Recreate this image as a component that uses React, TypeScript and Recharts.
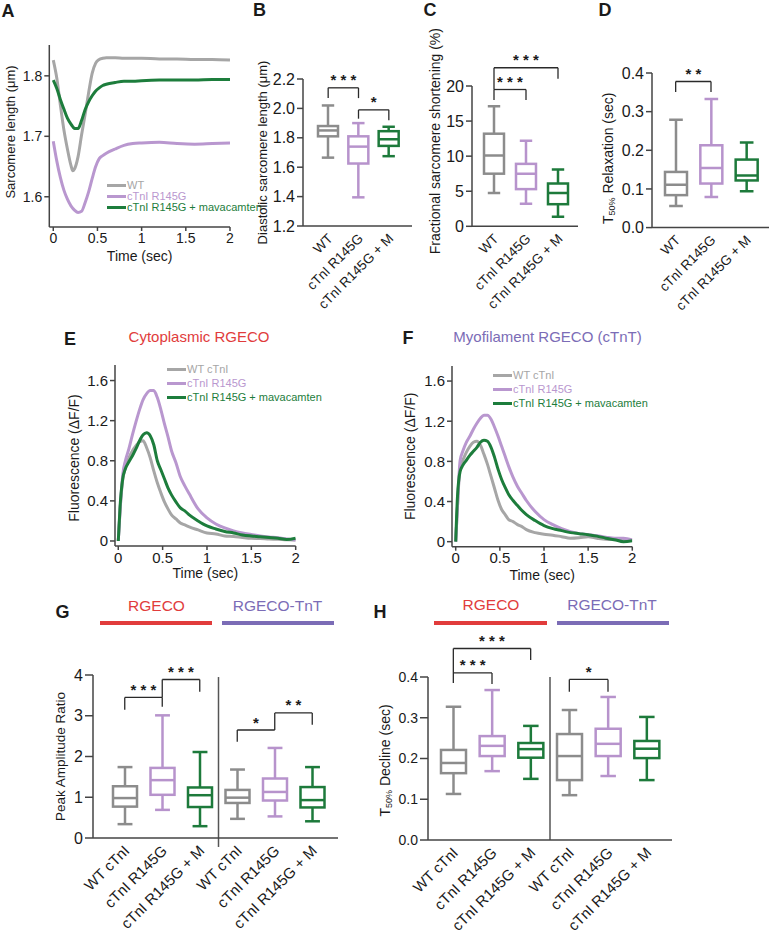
import React from "react";
import {
  LineChart,
  Line,
  BarChart,
  Bar,
  XAxis,
  YAxis,
  Legend,
  ReferenceLine,
} from "recharts";

const FONT = "'Liberation Sans', Arial, Helvetica, sans-serif";
const INK = "#1a1a1a";
const AXIS = "#444";
const TRACE = ["#a6a6a6", "#b997cf", "#1d7d3c"];
const BOX = ["#8c8c8c", "#b793cc", "#1d7a3b"];
const RED = "#e13c3c";
const VIOLET = "#7b6cb6";

// ---- A: sarcomere length traces ----
const timeA = [0, 0.04, 0.08, 0.12, 0.16, 0.2, 0.22, 0.24, 0.28, 0.32, 0.36, 0.4, 0.44, 0.48, 0.52, 0.56, 0.6, 0.7, 0.8, 0.9, 1.0, 1.2, 1.4, 1.6, 1.8, 2.0];
const aWT = [1.826, 1.796, 1.752, 1.711, 1.679, 1.652, 1.643, 1.646, 1.666, 1.702, 1.736, 1.772, 1.804, 1.821, 1.827, 1.829, 1.83, 1.83, 1.829, 1.829, 1.829, 1.828, 1.828, 1.827, 1.827, 1.826];
const aMut = [1.692, 1.659, 1.632, 1.611, 1.596, 1.585, 1.581, 1.578, 1.574, 1.576, 1.59, 1.608, 1.63, 1.65, 1.663, 1.668, 1.672, 1.679, 1.685, 1.688, 1.689, 1.69, 1.688, 1.687, 1.688, 1.689];
const aMav = [1.793, 1.779, 1.761, 1.745, 1.73, 1.72, 1.716, 1.713, 1.713, 1.726, 1.744, 1.757, 1.767, 1.775, 1.78, 1.784, 1.786, 1.789, 1.791, 1.791, 1.792, 1.793, 1.793, 1.793, 1.794, 1.794];
const namesA = ["WT", "cTnI R145G", "cTnI R145G + mavacamten"];

// ---- E / F: calcium transients ----
const timeEF = [0, 0.02, 0.05, 0.08, 0.12, 0.16, 0.2, 0.24, 0.28, 0.32, 0.36, 0.4, 0.44, 0.48, 0.52, 0.56, 0.6, 0.65, 0.7, 0.75, 0.8, 0.9, 1.0, 1.1, 1.2, 1.3, 1.4, 1.5, 1.6, 1.7, 1.8, 1.9, 2.0];
const eWT = [0, 0.31, 0.61, 0.73, 0.83, 0.9, 0.95, 0.99, 1.0, 0.93, 0.83, 0.7, 0.58, 0.48, 0.39, 0.32, 0.26, 0.22, 0.18, 0.16, 0.14, 0.11, 0.08, 0.07, 0.05, 0.045, 0.035, 0.027, 0.025, 0.02, 0.017, 0.012, 0.01];
const eMut = [0, 0.3, 0.66, 0.8, 0.92, 1.06, 1.19, 1.31, 1.41, 1.47, 1.5, 1.5, 1.43, 1.31, 1.17, 1.04, 0.9, 0.78, 0.64, 0.55, 0.47, 0.32, 0.23, 0.17, 0.13, 0.1, 0.08, 0.065, 0.05, 0.04, 0.033, 0.02, 0.01];
const eMav = [0, 0.34, 0.62, 0.72, 0.79, 0.85, 0.92, 1.0, 1.06, 1.08, 1.05, 0.96, 0.8, 0.71, 0.62, 0.53, 0.46, 0.39, 0.33, 0.3, 0.26, 0.2, 0.15, 0.12, 0.095, 0.08, 0.06, 0.05, 0.043, 0.035, 0.027, 0.015, 0.027];
const fWT = [0, 0.35, 0.75, 0.81, 0.89, 0.95, 0.99, 1.0, 0.96, 0.87, 0.77, 0.65, 0.53, 0.41, 0.32, 0.27, 0.22, 0.2, 0.17, 0.15, 0.12, 0.09, 0.075, 0.065, 0.05, 0.035, 0.04, 0.05, 0.035, 0.023, 0.02, 0.017, 0.015];
const fMut = [0, 0.35, 0.81, 0.9, 0.99, 1.05, 1.12, 1.18, 1.23, 1.26, 1.26, 1.22, 1.14, 1.05, 0.95, 0.85, 0.75, 0.64, 0.55, 0.48, 0.41, 0.3, 0.22, 0.17, 0.13, 0.1, 0.08, 0.07, 0.06, 0.045, 0.033, 0.033, 0.017];
const fMav = [0, 0.45, 0.7, 0.76, 0.81, 0.86, 0.9, 0.94, 0.99, 1.01, 1.0, 0.94, 0.84, 0.72, 0.62, 0.54, 0.47, 0.41, 0.36, 0.31, 0.27, 0.21, 0.16, 0.13, 0.11, 0.09, 0.08, 0.07, 0.055, 0.035, 0.02, 0.0, 0.01];
const namesEF = ["WT cTnI", "cTnI R145G", "cTnI R145G + mavacamten"];

// ---- box plots: [min, Q1, median, Q3, max] ----
const groups3 = ["WT", "cTnI R145G", "cTnI R145G + M"];
const groups6 = ["WT cTnI", "cTnI R145G", "cTnI R145G + M", "WT cTnI", "cTnI R145G", "cTnI R145G + M"];
const statsB = [[1.665, 1.81, 1.85, 1.88, 2.02], [1.395, 1.625, 1.74, 1.81, 1.9], [1.675, 1.745, 1.79, 1.845, 1.875]];
const statsC = [[4.75, 7.5, 10.1, 13.2, 17.1], [3.2, 5.3, 7.5, 8.9, 12.2], [1.35, 3.15, 4.75, 6.1, 8.1]];
const statsD = [[0.056, 0.084, 0.111, 0.144, 0.279], [0.079, 0.114, 0.154, 0.213, 0.333], [0.094, 0.122, 0.135, 0.176, 0.22]];
const statsG = [[0.34, 0.77, 0.98, 1.27, 1.74], [0.69, 1.06, 1.42, 1.72, 3.01], [0.29, 0.76, 1.05, 1.24, 2.11], [0.47, 0.86, 0.99, 1.18, 1.68], [0.53, 0.92, 1.13, 1.46, 2.21], [0.41, 0.75, 0.93, 1.25, 1.74]];
const statsH = [[0.113, 0.164, 0.189, 0.221, 0.327], [0.169, 0.206, 0.231, 0.255, 0.368], [0.15, 0.202, 0.223, 0.238, 0.28], [0.11, 0.147, 0.206, 0.26, 0.319], [0.157, 0.206, 0.236, 0.273, 0.351], [0.147, 0.201, 0.224, 0.243, 0.302]];

// significance brackets: [from, to, top, left end, right end, stars]
type Sig = [number, number, number, number, number, string];
const sigB: Sig[] = [[0, 1, 2.14, 2.07, 2.07, "***"], [1, 2, 1.99, 1.93, 1.92, "*"]];
const sigC: Sig[] = [[0, 1, 19.5, 18.0, 18.0, "***"], [0, 2, 22.6, 19.5, 21.05, "***"]];
const sigD: Sig[] = [[0, 1, 0.378, 0.351, 0.351, "**"]];
const sigG: Sig[] = [[0, 1, 3.45, 3.15, 3.22, "***"], [1, 2, 3.89, 3.45, 3.59, "***"], [3, 4, 2.65, 2.36, 2.65, "*"], [4, 5, 3.07, 2.65, 2.78, "**"]];
const sigH: Sig[] = [[0, 1, 0.41, 0.385, 0.383, "***"], [0, 2, 0.47, 0.41, 0.442, "***"], [3, 4, 0.394, 0.364, 0.364, "*"]];

type Frame = { left: number; top: number; width: number; height: number; t: number; r: number; yw: number; xh: number };
// plot box in page pixels plus room for axes on each side
function frame(px: number, py: number, pw: number, ph: number, l: number, t: number, r: number, b: number): Frame {
  return { left: px - l, top: py - t, width: l + pw + r, height: t + ph + b, t, r, yw: l, xh: b };
}

const fmt1 = (v: number) => v.toFixed(1);

function yTitle(text: React.ReactNode, x: number, dy: number, size: number) {
  return {
    content: (p: any) => {
      const vb = p.viewBox || {};
      const cy = (vb.y ?? 0) + (vb.height ?? 0) / 2 + dy;
      return (
        <text x={x} y={cy} transform={`rotate(-90 ${x} ${cy})`} textAnchor="middle" dominantBaseline="central" fontSize={size} fontFamily={FONT} fill={INK}>
          {text}
        </text>
      );
    },
  };
}

function xTitle(text: string, dy: number, size: number) {
  return {
    content: (p: any) => {
      const vb = p.viewBox || {};
      return (
        <text x={(vb.x ?? 0) + (vb.width ?? 0) / 2} y={(vb.y ?? 0) + dy} textAnchor="middle" dominantBaseline="central" fontSize={size} fontFamily={FONT} fill={INK}>
          {text}
        </text>
      );
    },
  };
}

function LegendRows({ items, rowH }: any) {
  return (
    <div style={{ fontFamily: FONT, fontSize: 11 }}>
      {(items || []).map((it: any) => (
        <div key={it.value} style={{ display: "flex", alignItems: "center", height: rowH, color: it.color, whiteSpace: "nowrap" }}>
          <span style={{ display: "inline-block", width: 19, height: 3, background: it.color, marginRight: 1 }} />
          {it.value}
        </div>
      ))}
    </div>
  );
}

function TracePanel(props: {
  f: Frame; time: number[]; series: number[][]; names: string[];
  xDomain: [number, number]; yDomain: [number, number]; yTicks: number[];
  yLabel: any; xLabel: any; tickFont: number; legend: { left: number; top: number; rowH: number };
}) {
  const { f, time, series, names } = props;
  const rows = time.map((t, i) => ({ t, s0: series[0][i], s1: series[1][i], s2: series[2][i] }));
  return (
    <div style={{ position: "absolute", left: f.left, top: f.top }}>
      <LineChart width={f.width} height={f.height} data={rows} margin={{ top: f.t, right: f.r, left: 0, bottom: 0 }}>
        <XAxis
          dataKey="t" type="number" domain={props.xDomain} allowDataOverflow ticks={[0, 0.5, 1, 1.5, 2]} interval={0}
          height={f.xh} tickSize={4} tickMargin={2}
          axisLine={{ stroke: AXIS, strokeWidth: 1.5 }} tickLine={{ stroke: AXIS, strokeWidth: 1.5 }}
          tick={{ fill: INK, fontSize: props.tickFont, fontFamily: FONT }} label={props.xLabel}
        />
        <YAxis
          type="number" domain={props.yDomain} allowDataOverflow ticks={props.yTicks} interval={0}
          width={f.yw} tickSize={5} tickMargin={2}
          axisLine={{ stroke: AXIS, strokeWidth: 1.5 }} tickLine={{ stroke: AXIS, strokeWidth: 1.5 }}
          tick={{ fill: INK, fontSize: props.tickFont, fontFamily: FONT }} label={props.yLabel}
        />
        {[0, 1, 2].map((k) => (
          <Line key={k} dataKey={`s${k}`} name={names[k]} type="monotone" stroke={TRACE[k]} strokeWidth={3} dot={false} isAnimationActive={false} />
        ))}
        <Legend
          layout="horizontal" align="center" verticalAlign="middle"
          wrapperStyle={{ left: props.legend.left, top: props.legend.top, width: 200 }}
          content={(p: any) => <LegendRows items={p.payload} rowH={props.legend.rowH} />}
        />
      </LineChart>
    </div>
  );
}

function BoxShape(p: any) {
  const { x, y, width, height, payload } = p;
  const [lo, q1, med, q3, hi] = payload.stats;
  const py = (v: number) => y + (height * (hi - v)) / (hi - lo);
  const cx = x + width / 2;
  const cap = width * 0.62;
  return (
    <g stroke={payload.color} strokeWidth={2.5} fill="none">
      <line x1={cx} x2={cx} y1={py(hi)} y2={py(q3)} />
      <line x1={cx} x2={cx} y1={py(q1)} y2={py(lo)} />
      <line x1={cx - cap / 2} x2={cx + cap / 2} y1={py(hi)} y2={py(hi)} />
      <line x1={cx - cap / 2} x2={cx + cap / 2} y1={py(lo)} y2={py(lo)} />
      <rect x={x} y={py(q3)} width={width} height={py(q1) - py(q3)} fill="#fff" />
      <line x1={x} x2={x + width} y1={py(med)} y2={py(med)} />
    </g>
  );
}

function CatTick({ x, y, payload, names, size }: any) {
  return (
    <g transform={`translate(${x + 2},${y + 10})`}>
      <text textAnchor="end" transform="rotate(-45)" dy="0.35em" fontSize={size} fontFamily={FONT} fill={INK}>
        {names[Number(payload.value)]}
      </text>
    </g>
  );
}

function starLabel(stars: string) {
  return {
    content: (p: any) => {
      const vb = p.viewBox || {};
      return (
        <text x={(vb.x ?? 0) + (vb.width ?? 0) / 2} y={(vb.y ?? 0) - 2.5} textAnchor="middle" fontSize={15} fontWeight="bold" fontFamily={FONT} fill={INK}>
          {stars.split("").join(" ")}
        </text>
      );
    },
  };
}

function sigMarks(sig: Sig[]) {
  const line = { xAxisId: "c", stroke: "#2a2a2a", strokeWidth: 1.3, ifOverflow: "visible" as const };
  return sig.flatMap(([a, b, top, la, lb, stars], i) => {
    const ka = String(a);
    const kb = String(b);
    return [
      <ReferenceLine key={`h${i}`} segment={[{ x: ka, y: top }, { x: kb, y: top }]} label={starLabel(stars)} {...line} />,
      <ReferenceLine key={`l${i}`} segment={[{ x: ka, y: la }, { x: ka, y: top }]} {...line} />,
      <ReferenceLine key={`r${i}`} segment={[{ x: kb, y: lb }, { x: kb, y: top }]} {...line} />,
    ];
  });
}

function BoxPanel(props: {
  f: Frame; names: string[]; stats: number[][]; sig: Sig[];
  domain: [number, number]; ticks: number[]; fmt?: (v: number) => string;
  boxW: number; pad: { left: number; right: number }; title: any;
  tickFont: number; catFont: number; tickLen: number; divider?: [number, number];
}) {
  const { f, names, stats, pad } = props;
  const rows = stats.map((s, i) => ({ key: String(i), lo: s[0], hi: s[4], stats: s, color: BOX[i % 3] }));
  const mid = String(names.length / 2);
  return (
    <div style={{ position: "absolute", left: f.left, top: f.top }}>
      <BarChart width={f.width} height={f.height} data={rows} margin={{ top: f.t, right: f.r, left: 0, bottom: 0 }}>
        <XAxis
          xAxisId="c" dataKey="key" type="category" interval={0} padding={pad} height={f.xh}
          tickLine={false} tickSize={0} tickMargin={0} axisLine={{ stroke: AXIS, strokeWidth: 1.5 }}
          tick={(p: any) => <CatTick {...p} names={names} size={props.catFont} />}
        />
        <YAxis
          type="number" domain={props.domain} allowDataOverflow ticks={props.ticks} interval={0}
          tickFormatter={props.fmt} width={f.yw} tickSize={props.tickLen} tickMargin={2}
          axisLine={{ stroke: AXIS, strokeWidth: 1.5 }} tickLine={{ stroke: AXIS, strokeWidth: 1.5 }}
          tick={{ fill: INK, fontSize: props.tickFont, fontFamily: FONT }} label={props.title}
        />
        <Bar xAxisId="c" dataKey={(r: any) => [r.lo, r.hi]} barSize={props.boxW} shape={BoxShape} isAnimationActive={false} />
        {props.divider && (
          <ReferenceLine
            xAxisId="c" position="start" segment={[{ x: mid, y: props.divider[0] }, { x: mid, y: props.divider[1] }]}
            stroke="#555" strokeWidth={1.5} ifOverflow="visible"
          />
        )}
        {sigMarks(props.sig)}
      </BarChart>
    </div>
  );
}

const fA = frame(49.3, 45, 180.7, 182, 49.3, 12, 12, 40);
const fB = frame(303, 79, 109, 147, 52, 30, 6, 90);
const fC = frame(472, 85.7, 106, 140.3, 46, 62, 6, 90);
const fD = frame(652, 72.7, 117, 154.6, 54, 16, 0, 90);
const fE = frame(115, 365, 180.7, 181, 52, 12, 12, 42);
const fF = frame(452, 366, 180.3, 180.7, 52, 12, 12, 42);
const fG = frame(93, 675, 245, 163, 46, 22, 10, 105);
const fH = frame(428, 677, 244, 163, 50, 50, 10, 105);

function Tag({ x, y, children, size = 18, color = INK, bold = true }: any) {
  return (
    <div style={{ position: "absolute", left: x, top: y, transform: "translate(-50%, -50%)", fontSize: size, lineHeight: 1, fontWeight: bold ? "bold" : "normal", color, whiteSpace: "nowrap" }}>
      {children}
    </div>
  );
}

function Band({ x1, x2, y, color }: any) {
  return <div style={{ position: "absolute", left: x1, top: y - 2, width: x2 - x1, height: 4, background: color }} />;
}

const sub = (main: string, s: string, rest: string) => (
  <>
    {main}
    <tspan dy={4} fontSize={9}>{s}</tspan>
    <tspan dy={-4}>{rest}</tspan>
  </>
);

export default function App() {
  return (
    <div style={{ position: "absolute", left: 0, top: 0, width: 769, height: 943, background: "#fff", fontFamily: FONT, overflow: "hidden" }}>
      <TracePanel
        f={fA} time={timeA} series={[aWT, aMut, aMav]} names={namesA}
        xDomain={[-0.045, 2]} yDomain={[1.55, 1.851]} yTicks={[1.6, 1.7, 1.8]} tickFont={14}
        yLabel={yTitle("Sarcomere length (μm)", 10, -4, 13)} xLabel={xTitle("Time (sec)", 28.5, 14)}
        legend={{ left: 107, top: 146.5, rowH: 11 }}
      />
      <BoxPanel
        f={fB} names={groups3} stats={statsB} sig={sigB} domain={[1.2, 2.2]} ticks={[1.2, 1.4, 1.6, 1.8, 2.0, 2.2]} fmt={fmt1}
        boxW={20} pad={{ left: 10, right: 8 }} tickFont={16} catFont={13.5} tickLen={6}
        title={yTitle("Diastolic sarcomere length (μm)", 11, 0, 13)}
      />
      <BoxPanel
        f={fC} names={groups3} stats={statsC} sig={sigC} domain={[0, 20]} ticks={[0, 5, 10, 15, 20]}
        boxW={20} pad={{ left: 6, right: 4 }} tickFont={16} catFont={13.5} tickLen={6}
        title={yTitle("Fractional sarcomere shortening (%)", 9, -15, 14)}
      />
      <BoxPanel
        f={fD} names={groups3} stats={statsD} sig={sigD} domain={[0, 0.4]} ticks={[0, 0.1, 0.2, 0.3, 0.4]} fmt={fmt1}
        boxW={22} pad={{ left: 6, right: 5 }} tickFont={16} catFont={13.5} tickLen={6}
        title={yTitle(sub("T", "50%", " Relaxation (sec)"), 10, 8, 14)}
      />
      <TracePanel
        f={fE} time={timeEF} series={[eWT, eMut, eMav]} names={namesEF}
        xDomain={[-0.037, 2]} yDomain={[-0.05, 1.755]} yTicks={[0, 0.4, 0.8, 1.2, 1.6]} tickFont={15}
        yLabel={yTitle("Fluorescence (ΔF/F)", 11, 2.5, 14)} xLabel={xTitle("Time (sec)", 27, 14)}
        legend={{ left: 104, top: 9, rowH: 14 }}
      />
      <TracePanel
        f={fF} time={timeEF} series={[fWT, fMut, fMav]} names={namesEF}
        xDomain={[-0.042, 2]} yDomain={[-0.05, 1.75]} yTicks={[0, 0.4, 0.8, 1.2, 1.6]} tickFont={15}
        yLabel={yTitle("Fluorescence (ΔF/F)", 10, 0, 14)} xLabel={xTitle("Time (sec)", 28, 14)}
        legend={{ left: 93, top: 14, rowH: 14 }}
      />
      <BoxPanel
        f={fG} names={groups6} stats={statsG} sig={sigG} domain={[0, 4]} ticks={[0, 1, 2, 3, 4]}
        boxW={24} pad={{ left: 13, right: 7 }} tickFont={16} catFont={15} tickLen={8}
        title={yTitle("Peak Amplitude Ratio", 13, 0, 13.5)} divider={[-0.22, 3.95]}
      />
      <BoxPanel
        f={fH} names={groups6} stats={statsH} sig={sigH} domain={[0, 0.4]} ticks={[0, 0.1, 0.2, 0.3, 0.4]} fmt={fmt1}
        boxW={25} pad={{ left: 6, right: 6 }} tickFont={14} catFont={15} tickLen={8}
        title={yTitle(sub("T", "50%", " Decline (sec)"), 7, 2, 14)} divider={[0, 0.4]}
      />

      <Tag x={8} y={11}>A</Tag>
      <Tag x={259.5} y={9.5}>B</Tag>
      <Tag x={430} y={9.5}>C</Tag>
      <Tag x={605} y={9.5}>D</Tag>
      <Tag x={70} y={338.5}>E</Tag>
      <Tag x={408} y={337.5}>F</Tag>
      <Tag x={62.5} y={611.5}>G</Tag>
      <Tag x={380} y={611.5}>H</Tag>

      <Tag x={199} y={336} size={15} color={RED} bold={false}>Cytoplasmic RGECO</Tag>
      <Tag x={547.5} y={336} size={15} color={VIOLET} bold={false}>Myofilament RGECO (cTnT)</Tag>

      <Tag x={156.5} y={605.5} size={15.5} color={RED} bold={false}>RGECO</Tag>
      <Tag x={277.5} y={605.5} size={15.5} color={VIOLET} bold={false}>RGECO-TnT</Tag>
      <Band x1={100} x2={212} y={623} color={RED} />
      <Band x1={222} x2={334} y={623} color={VIOLET} />
      <Tag x={491} y={605} size={15.5} color={RED} bold={false}>RGECO</Tag>
      <Tag x={612} y={605} size={15.5} color={VIOLET} bold={false}>RGECO-TnT</Tag>
      <Band x1={434} x2={547} y={623} color={RED} />
      <Band x1={557} x2={669} y={623} color={VIOLET} />
    </div>
  );
}
